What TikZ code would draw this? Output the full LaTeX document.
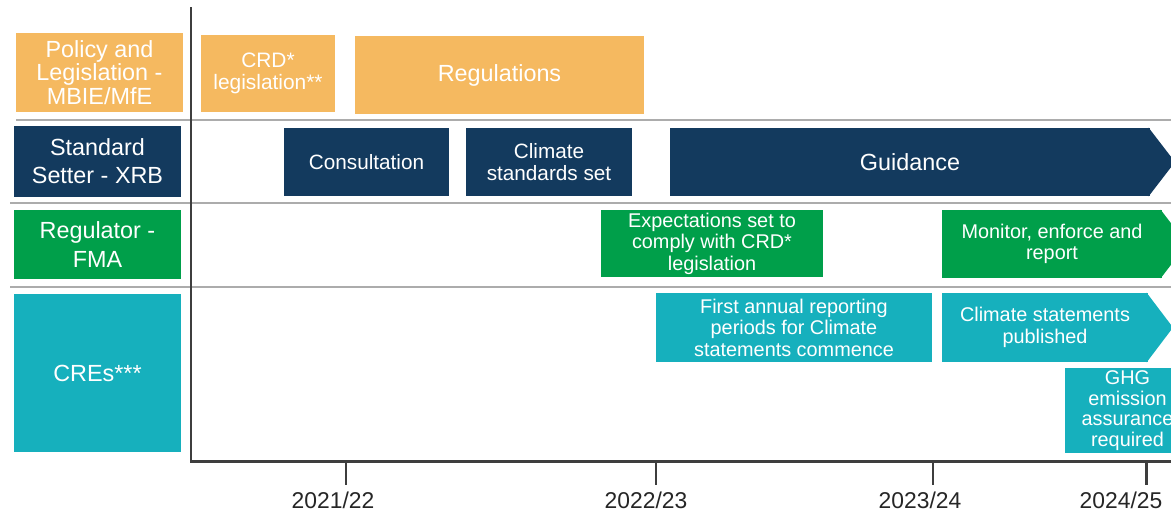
\documentclass[tikz,border=0pt]{standalone}
\usepackage{fontspec}
\setmainfont{Liberation Sans}
\usetikzlibrary{positioning}

\definecolor{policy}{RGB}{245,185,96}
\definecolor{setter}{RGB}{19,58,94}
\definecolor{regul}{RGB}{0,159,74}
\definecolor{cre}{RGB}{22,176,189}
\definecolor{axisgray}{RGB}{62,62,62}

\begin{document}
\begin{tikzpicture}[x=0.02cm,y=-0.02cm,
    bar/.style={inner sep=0pt,text=white,align=center,font=\fontsize{11.3}{12.2}\selectfont},
    span/.style n args={4}{minimum width={(#3-#1)*0.02cm},minimum height={(#4-#2)*0.02cm},
      at={({(#1+#3)/2},{(#2+#4)/2})}},
    big/.style={font=\fontsize{13.3}{16}\selectfont},
    rowline/.style={draw=gray!65,line width=0.6pt},
    axisline/.style={draw=axisgray,line width=1.7pt},
    year/.style={text=black!85,font=\fontsize{13}{15}\selectfont}]
  \clip (0,0) rectangle (1171,512);
  \fill[white] (0,0) rectangle (1171,512);

  % lines between the rows
  \draw[rowline] (16,120) -- (1171,120);
  \draw[rowline] (10,203) -- (1171,203);
  \draw[rowline] (10,287) -- (1171,287);

  % who does what
  \node[bar,fill=policy,span={16}{33}{183}{112},font=\fontsize{13.3}{13.5}\selectfont] (policy) {Policy and\\Legislation -\\MBIE/MfE};
  \node[bar,big,fill=setter,span={14}{126}{181}{197}] (setter) {Standard\\Setter - XRB};
  \node[bar,big,fill=regul,span={14}{210}{181}{279}] (regul) {Regulator -\\FMA};
  \node[bar,big,fill=cre,span={14}{294}{181}{452}] (cre) {CREs***};

  % policy and legislation
  \node[bar,fill=policy,span={201}{35}{335}{112},font=\fontsize{11.9}{12.8}\selectfont] (crd) {CRD*\\legislation**};
  \node[bar,big,fill=policy,span={355}{36}{644}{114}] (regs) {Regulations};

  % standard setter
  \node[bar,fill=setter,span={284}{128}{449}{196},font=\fontsize{11.8}{13}\selectfont] (consult) {Consultation};
  \node[bar,fill=setter,span={466}{128}{632}{196},font=\fontsize{11.8}{12.4}\selectfont] (stdset) {Climate\\standards set};
  \node[bar,big,fill=setter,span={670}{128}{1150}{196}] (guide) {Guidance};
  \fill[setter] ([xshift=-1pt]guide.north east) -- (1175,162) -- ([xshift=-1pt]guide.south east) -- cycle;

  % regulator
  \node[bar,fill=regul,span={601}{210}{823}{277}] (expect) {Expectations set to\\comply with CRD*\\legislation};
  \node[bar,fill=regul,span={942}{210}{1162}{278}] (monitor) {Monitor, enforce and\\report};
  \fill[regul] ([xshift=-1pt]monitor.north east) -- (1187,244) -- ([xshift=-1pt]monitor.south east) -- cycle;

  % reporting entities
  \node[bar,fill=cre,span={656}{293}{932}{362}] (first) {First annual reporting\\periods for Climate\\statements commence};
  \node[bar,fill=cre,span={942}{293}{1148}{362}] (publish) {Climate statements\\published};
  \fill[cre] ([xshift=-1pt]publish.north east) -- (1173,327.5) -- ([xshift=-1pt]publish.south east) -- cycle;
  \node[bar,fill=cre,span={1065}{368}{1190}{453},font=\fontsize{11.3}{11.7}\selectfont] (ghg) {GHG\\emission\\assurance\\required};

  % time axis
  \coordinate (top) at (191,7);
  \coordinate (corner) at (191,461);
  \coordinate (end) at (1171,461);
  \draw[axisline] (top) -- (corner) -- (end);
  \foreach \x/\lx/\yr in {346/333/{2021/22},656/646/{2022/23},933/920/{2023/24},1146/1121/{2024/25}}{
    \coordinate (t\x) at (\x,461);
    \draw[axisline] (t\x) -- ++(0,24);
    \node[year] (y\x) at (\lx,500) {\yr};
  }
\end{tikzpicture}
\end{document}
